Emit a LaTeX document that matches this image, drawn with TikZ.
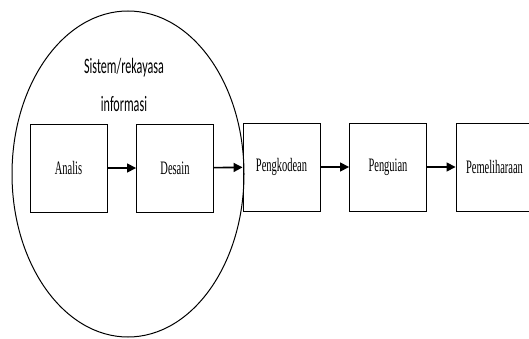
\documentclass[tikz,border=0pt]{standalone}
\usepackage{fontspec}
\setmainfont{Liberation Serif}
\newfontfamily\titlefont{Carlito}
\usetikzlibrary{arrows.meta,shapes.geometric}
% horizontally condensed text
\newcommand\narrowtext[2][0.55]{\scalebox{#1}[1]{#2}}

\begin{document}
\begin{tikzpicture}[x=1pt,y=-1pt,
  stage/.style={draw, line width=0.9pt, minimum width=77pt, minimum height=88pt,
    inner sep=0pt, font=\fontsize{19}{22}\selectfont},
  flow/.style={-{Triangle[length=9pt,width=9pt]}, line width=1.6pt},
  caption/.style={inner sep=0pt, font=\titlefont\fontsize{22}{26}\selectfont},
  group/.style={draw, ellipse, line width=1pt, inner sep=0pt,
    minimum width=232pt, minimum height=326pt}]
\clip (0,0) rectangle (529,339);
\fill[white] (0,0) rectangle (529,339);

% the information-system engineering phases
\node[group] (sys) at (128,174) {};
\node[caption] (cap1) at (124,68) {\narrowtext{Sistem/rekayasa}};
\node[caption] (cap2) at (124,104) {\narrowtext{informasi}};

% waterfall stages
\node[stage] (analis) at (68.5,168) {\narrowtext{Analis}};
\node[stage] (desain) at (175,168) {\narrowtext{Desain}};
\node[stage] (kode) at (281.5,167) {\narrowtext{Pengkodean}};
\node[stage] (uji) at (388,167) {\narrowtext{Penguian}};
\node[stage] (pelihara) at (494.5,167) {\narrowtext{Pemeliharaan}};

\draw[flow] (analis) -- (desain);
\draw[flow] (desain) -- (kode);
\draw[flow] (kode) -- (uji);
\draw[flow] (uji) -- (pelihara);
\end{tikzpicture}
\end{document}
